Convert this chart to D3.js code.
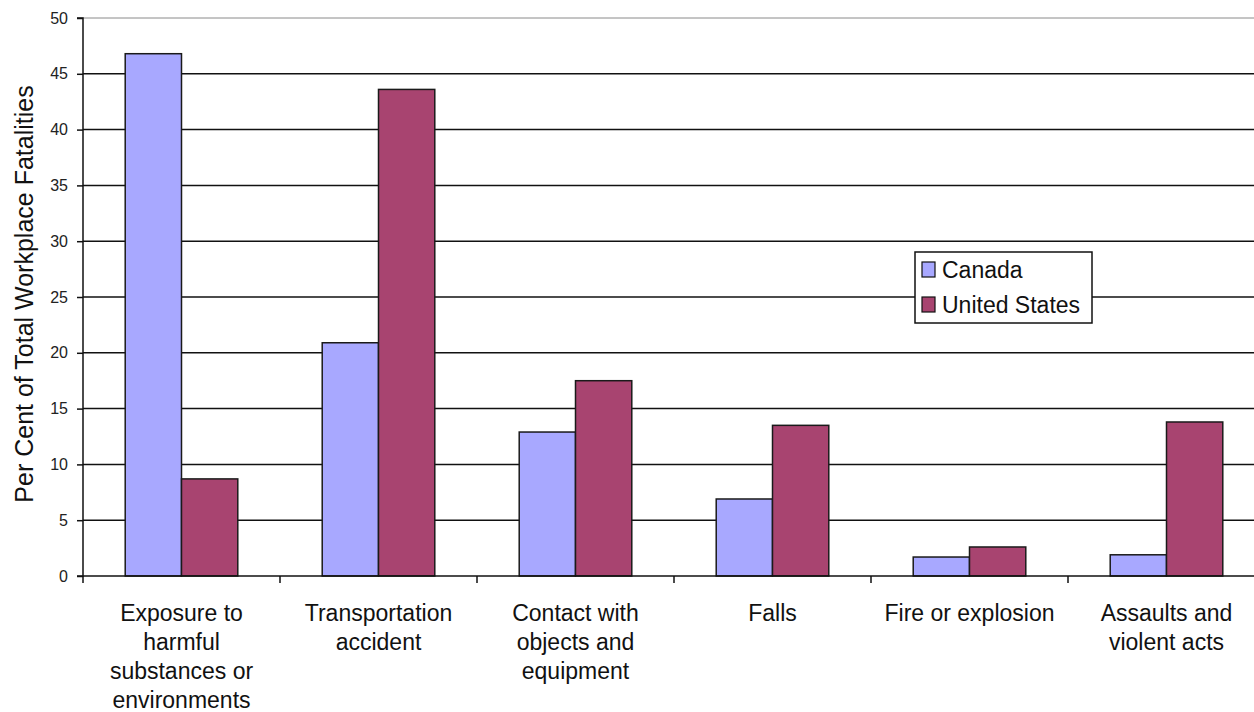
<!DOCTYPE html>
<html>
<head>
<meta charset="utf-8">
<script src="https://cdn.jsdelivr.net/npm/d3@7"></script>
<style>
  html, body { margin: 0; padding: 0; background: #fff; }
  svg { display: block; font-family: "Liberation Sans", Arial, sans-serif; }
</style>
</head>
<body>
<svg id="chart" width="1254" height="712"></svg>
<script>
// Share of workplace fatalities by event type
const categories = [
  ["Exposure to", "harmful", "substances or", "environments"],
  ["Transportation", "accident"],
  ["Contact with", "objects and", "equipment"],
  ["Falls"],
  ["Fire or explosion"],
  ["Assaults and", "violent acts"]
];
const seriesNames = ["Canada", "United States"];
const canada = [46.8, 20.9, 12.9, 6.9, 1.7, 1.9];
const unitedStates = [8.7, 43.6, 17.5, 13.5, 2.6, 13.8];
const yTicks = [0, 5, 10, 15, 20, 25, 30, 35, 40, 45, 50];
const colors = ["#a8a8ff", "#a84470"];

const svg = d3.select("#chart");
const plotLeft = 83, plotTop = 18, plotBottom = 576;
const catWidth = 197;
const plotRight = plotLeft + catWidth * categories.length;

const x = d3.scaleBand()
  .domain(d3.range(categories.length))
  .range([plotLeft, plotRight])
  .paddingInner(0).paddingOuter(0);
const xInner = d3.scaleBand()
  .domain(d3.range(seriesNames.length))
  .range([0, x.bandwidth()])
  .paddingInner(0)
  .paddingOuter(0.75);
const y = d3.scaleLinear().domain([0, 50]).range([plotBottom, plotTop]);

// gridlines
svg.append("g")
  .selectAll("line")
  .data(yTicks.filter(t => t > 0))
  .join("line")
  .attr("x1", plotLeft).attr("x2", plotRight)
  .attr("y1", d => y(d)).attr("y2", d => y(d))
  .attr("stroke", d => d === 50 ? "#8a8a8a" : "#111")
  .attr("stroke-width", d => d === 50 ? 1 : 1.5);

// bars
const data = [];
categories.forEach((c, i) => {
  [canada, unitedStates].forEach((s, j) => data.push({ i, j, v: s[i] }));
});
svg.append("g")
  .selectAll("rect")
  .data(data)
  .join("rect")
  .attr("x", d => x(d.i) + xInner(d.j))
  .attr("width", xInner.bandwidth())
  .attr("y", d => y(d.v))
  .attr("height", d => y(0) - y(d.v))
  .attr("fill", d => colors[d.j])
  .attr("stroke", "#1a1a1a")
  .attr("stroke-width", 1.5);

// y axis
const yAxis = d3.axisLeft(y).tickValues(yTicks).tickSize(6).tickPadding(9)
  .tickFormat(d3.format("d"));
const gy = svg.append("g").attr("transform", `translate(${plotLeft},0)`).call(yAxis);
gy.select(".domain").attr("stroke", "#111").attr("stroke-width", 1.5)
  .attr("d", `M-6,${plotTop}H0V${plotBottom}H-6`);
gy.selectAll(".tick line").attr("stroke", "#111").attr("stroke-width", 1.5);
gy.selectAll(".tick text").attr("font-size", 16).attr("fill", "#222")
  .attr("font-family", "'Liberation Sans', Arial, sans-serif");

// x axis with category boundary ticks
const gx = svg.append("g");
gx.append("line")
  .attr("x1", plotLeft).attr("x2", plotRight)
  .attr("y1", plotBottom).attr("y2", plotBottom)
  .attr("stroke", "#111").attr("stroke-width", 1.5);
gx.selectAll("line.tick")
  .data(d3.range(categories.length + 1))
  .join("line")
  .attr("class", "tick")
  .attr("x1", d => plotLeft + d * x.bandwidth())
  .attr("x2", d => plotLeft + d * x.bandwidth())
  .attr("y1", plotBottom).attr("y2", plotBottom + 7)
  .attr("stroke", "#111").attr("stroke-width", 1.5);

const labels = gx.selectAll("text.cat")
  .data(categories)
  .join("text")
  .attr("class", "cat")
  .attr("text-anchor", "middle")
  .attr("font-size", 23)
  .attr("fill", "#111");
labels.each(function(lines, i) {
  const t = d3.select(this);
  lines.forEach((ln, k) => {
    t.append("tspan")
      .attr("x", x(i) + x.bandwidth() / 2)
      .attr("y", 621 + k * 29)
      .text(ln);
  });
});

// y axis title
svg.append("text")
  .attr("transform", "translate(33,294) rotate(-90)")
  .attr("text-anchor", "middle")
  .attr("font-size", 25)
  .attr("fill", "#111")
  .text("Per Cent of Total Workplace Fatalities");

// legend
const lg = svg.append("g").attr("transform", "translate(915,252)");
lg.append("rect")
  .attr("width", 177).attr("height", 71)
  .attr("fill", "#fff").attr("stroke", "#111").attr("stroke-width", 1.5);
seriesNames.forEach((name, j) => {
  const ly = 18 + j * 35;
  lg.append("rect")
    .attr("x", 7).attr("y", ly - 8)
    .attr("width", 13).attr("height", 15)
    .attr("fill", colors[j]).attr("stroke", "#111").attr("stroke-width", 1.2);
  lg.append("text")
    .attr("x", 27).attr("y", ly + 8)
    .attr("font-size", 23).attr("fill", "#111")
    .text(name);
});
</script>
</body>
</html>
